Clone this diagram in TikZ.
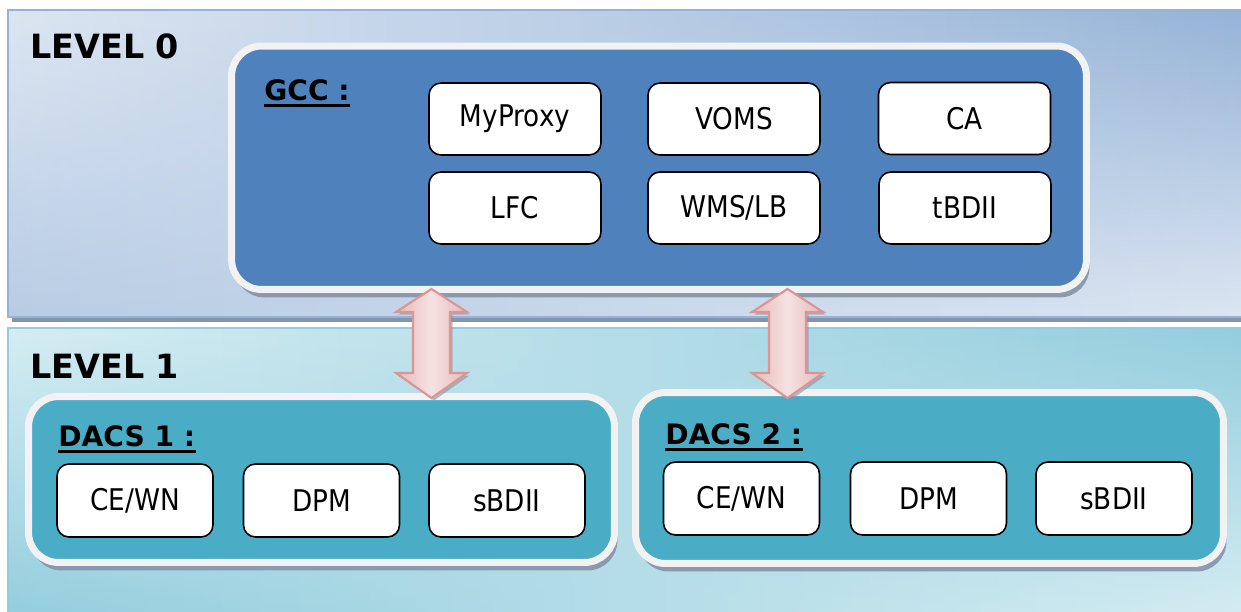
\documentclass[tikz,border=0pt]{standalone}
\usepackage{fontspec}
\setmainfont{DejaVu Sans}[FakeStretch=0.88]
\newfontfamily\headfont{DejaVu Sans}
\usetikzlibrary{calc,shadows,fadings}

\definecolor{gccblue}{HTML}{4F81BD}
\definecolor{dacsteal}{HTML}{4BACC6}
\definecolor{rimgray}{HTML}{F2F2F2}
\definecolor{stripgray}{HTML}{8593AB}
\definecolor{lzeroL}{HTML}{DCE6F2}
\definecolor{lzeroD}{HTML}{95B3D7}
\definecolor{lzeroM}{HTML}{B8CCE4}
\definecolor{loneL}{HTML}{D6EDF3}
\definecolor{loneD}{HTML}{93CDDD}
\definecolor{arrowedge}{HTML}{D99694}
\definecolor{arrowside}{HTML}{E6B9B8}
\definecolor{arrowmid}{HTML}{F6E2E2}

\begin{document}
\begin{tikzpicture}[x=0.02cm,y=-0.02cm,
  panel/.style={draw=rimgray, line width=0.14cm, rounded corners=0.6cm,
    drop shadow={shadow xshift=0.06cm, shadow yshift=-0.16cm, fill=stripgray, opacity=0.9}},
  svc/.style={draw=black, fill=white, line width=0.9pt, rounded corners=0.24cm,
    minimum width=3.44cm, minimum height=1.44cm, inner sep=0pt,
    font=\fontsize{17}{20}\selectfont},
  dsvc/.style={svc, minimum width=3.12cm, minimum height=1.46cm},
  lvl/.style={anchor=base west, inner sep=0pt, font=\headfont\bfseries\fontsize{19}{22}\selectfont},
  grp/.style={anchor=base west, inner sep=0pt, font=\headfont\bfseries\fontsize{16}{19}\selectfont},
  uline/.style={line width=1.4pt},
  duplex/.style={draw=arrowedge, line width=1.2pt, left color=arrowside,
    right color=arrowside, middle color=arrowmid,
    drop shadow={shadow xshift=0.05cm, shadow yshift=-0.05cm, fill=stripgray, opacity=0.6}}]
\useasboundingbox (0,0) rectangle (1241,612);

%niveau 0
  \fill[stripgray] (12,14) rectangle (1250,322);
  \shade[left color=lzeroL, right color=lzeroD] (8,10) rectangle (1250,317);
  \shade[left color=lzeroM, right color=lzeroL, path fading=north] (8,10) rectangle (1250,317);
  \draw[lzeroD, line width=0.03cm] (8,10) rectangle (1250,317);
%niveau 1
  \shade[left color=loneL, right color=loneD] (8,328) rectangle (1250,620);
  \shade[left color=loneD, right color=loneL, path fading=north] (8,328) rectangle (1250,620);
  \draw[loneD, line width=0.03cm] (1250,328) -- (8,328) -- (8,620);

  \node[lvl] (lvl0) at (30,58) {LEVEL 0};
  \node[lvl] (lvl1) at (30,378) {LEVEL 1};

%GCC
  \node[panel, fill=gccblue, minimum width=17.1cm, minimum height=4.87cm] (gcc) at (659,167.75) {};
  \node[grp] (gcclbl) at (264,100) {GCC :};
  \draw[uline] ([yshift=-3.2pt]gcclbl.base west) -- ([yshift=-3.2pt]gcclbl.base east);
  \node[svc] (myproxy) at (515,119) {MyProxy};
  \node[svc] (voms) at (734,119) {VOMS};
  \node[svc] (ca) at (964.5,118.5) {CA};
  \node[svc] (lfc) at (515,208) {LFC};
  \node[svc] (wms) at (734,208) {WMS/LB};
  \node[svc] (tbdii) at (965,208) {tBDII};

%DACS 1
  \node[panel, fill=dacsteal, minimum width=11.72cm, minimum height=3.32cm] (dacsA) at (321.5,479.5) {};
  \node[grp] (dacsAlbl) at (58,446) {DACS 1 :};
  \draw[uline] ([yshift=-3.2pt]dacsAlbl.base west) -- ([yshift=-3.2pt]dacsAlbl.base east);
  \node[dsvc] (cewnA) at (135,500.5) {CE/WN};
  \node[dsvc] (dpmA) at (321.5,500.5) {DPM};
  \node[dsvc] (sbdiiA) at (507,500.5) {sBDII};

%DACS 2
  \node[panel, fill=dacsteal, minimum width=11.76cm, minimum height=3.42cm] (dacsB) at (929.5,478) {};
  \node[grp] (dacsBlbl) at (665,444) {DACS 2 :};
  \draw[uline] ([yshift=-3.2pt]dacsBlbl.base west) -- ([yshift=-3.2pt]dacsBlbl.base east);
  \node[dsvc] (cewnB) at (741.5,498.5) {CE/WN};
  \node[dsvc] (dpmB) at (928.5,498.5) {DPM};
  \node[dsvc] (sbdiiB) at (1114,498.5) {sBDII};

%liaisons
  \coordinate (upA) at (431.5,289);
  \coordinate (dnA) at (431.5,398);
  \coordinate (upB) at (787.5,289);
  \coordinate (dnB) at (787.5,398);
  \shade[duplex] (upA) -- ++(35.5,23) -- ++(-17,0) -- ($(dnA)+(18.5,-25)$) -- ++(17,0) -- (dnA)
     -- ++(-35.5,-25) -- ++(17,0) -- ($(upA)+(-18.5,23)$) -- ++(-17,0) -- cycle;
  \shade[duplex] (upB) -- ++(35.5,23) -- ++(-17,0) -- ($(dnB)+(18.5,-25)$) -- ++(17,0) -- (dnB)
     -- ++(-35.5,-25) -- ++(17,0) -- ($(upB)+(-18.5,23)$) -- ++(-17,0) -- cycle;
\end{tikzpicture}
\end{document}
